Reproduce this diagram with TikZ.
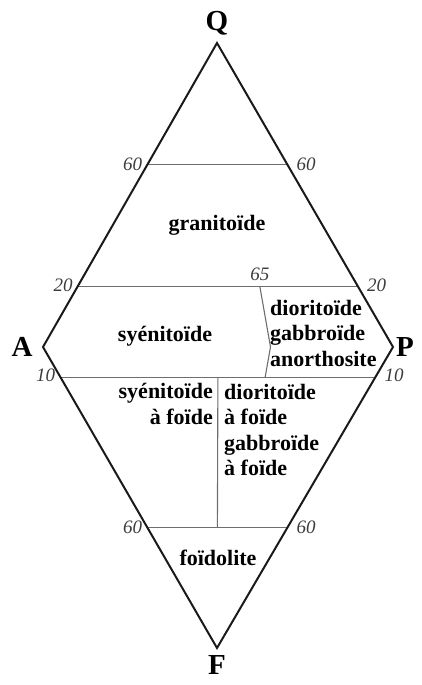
\documentclass[tikz,border=0pt]{standalone}
\usepackage{fontspec}
\setmainfont{Liberation Serif}
\usetikzlibrary{calc}
\definecolor{frameblack}{HTML}{1A1A1A}
\definecolor{limitgray}{HTML}{6E6E6E}
\definecolor{valgray}{HTML}{3C3C3C}

\begin{document}
\begin{tikzpicture}[x=1pt,y=-1pt,
    vertex/.style={font=\fontsize{29}{29}\selectfont\bfseries,inner sep=0pt},
    field/.style={font=\fontsize{22}{25.5}\selectfont\bfseries,inner sep=0pt},
    val/.style={font=\fontsize{19}{19}\selectfont\itshape,color=valgray,inner sep=0pt},
    limit/.style={limitgray,line width=1.1pt}]
    \useasboundingbox (0,0) rectangle (421,685);
    % corners of the double triangle
    \coordinate (Q) at (217,43);
    \coordinate (A) at (43,347);
    \coordinate (P) at (393,347);
    \coordinate (F) at (217,648);
    % points on the sides
    \coordinate (q60l) at ($(Q)!.4!(A)$);
    \coordinate (q60r) at ($(Q)!.4!(P)$);
    \coordinate (q20l) at ($(Q)!.8!(A)$);
    \coordinate (q20r) at ($(Q)!.8!(P)$);
    \coordinate (f10l) at ($(A)!.1!(F)$);
    \coordinate (f10r) at ($(P)!.1!(F)$);
    \coordinate (f60l) at ($(A)!.6!(F)$);
    \coordinate (f60r) at ($(P)!.6!(F)$);
    \coordinate (s20) at ($(q20l)!.65!(q20r)$);
    \coordinate (sAP) at ($(A)!.65!(P)$);
    \coordinate (s10) at ($(f10l)!.65!(f10r)$);
    \coordinate (c10) at ($(f10l)!.5!(f10r)$);
    \coordinate (c60) at ($(f60l)!.5!(f60r)$);

    \foreach \l/\r in {q60l/q60r,q20l/q20r,f10l/f10r,f60l/f60r}
      \draw[limit] (\l) -- (\r);
    \draw[limit] (s20) -- (sAP) -- (s10);
    \draw[limit] (c10) -- (c60);
    \draw[frameblack,line width=2pt,line join=miter] (Q) -- (P) -- (F) -- (A) -- cycle;

    \node[vertex] (nQ) at (217,23) {Q};
    \node[vertex] (nA) at (22,347) {A};
    \node[vertex] (nP) at (405,347) {P};
    \node[vertex] (nF) at (217,665) {F};

    \foreach \l/\r/\t/\dy in {q60l/q60r/60/0,q20l/q20r/20/-1,f10l/f10r/10/-2,f60l/f60r/60/0}{
      \node[val,anchor=east] (v\l) at ($(\l)+(-5,\dy)$) {\t};
      \node[val,anchor=west] (v\r) at ($(\r)+(9,\dy)$) {\t};
    }
    \node[val,anchor=south] (v65) at ($(s20)+(0,-5)$) {65};

    \node[field] (granito) at (217,225) {granitoïde};
    \node[field] (syeno) at (165,336) {syénitoïde};
    \node[field,anchor=west,align=left] (diorito) at (270,333) {dioritoïde\\gabbroïde\\anorthosite};
    \node[field,anchor=east,align=right] (syenofoid) at (213,404) {syénitoïde\\à foïde};
    \node[field,anchor=west,align=left] (dioritofoid) at (224,430) {dioritoïde\\à foïde\\gabbroïde\\à foïde};
    \node[field] (foido) at (218,558) {foïdolite};
\end{tikzpicture}
\end{document}
